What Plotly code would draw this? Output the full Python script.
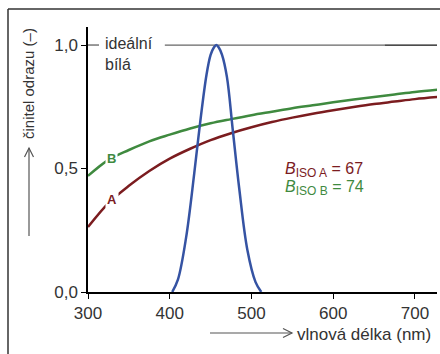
import plotly.graph_objects as go

# Data
wl_curves = [300, 325, 350, 375, 400, 425, 450, 475, 500, 525, 550, 575, 600, 625, 650, 675, 700, 730]
refl_B = [0.47, 0.535, 0.575, 0.61, 0.637, 0.662, 0.683, 0.70, 0.716, 0.73, 0.744, 0.756, 0.768, 0.779, 0.79, 0.80, 0.81, 0.82]
refl_A = [0.263, 0.36, 0.43, 0.49, 0.54, 0.58, 0.615, 0.643, 0.667, 0.688, 0.706, 0.722, 0.736, 0.749, 0.761, 0.771, 0.781, 0.79]
wl_blue = [403, 410, 420, 430, 437, 445, 450, 454, 457, 460, 464, 470, 477, 485, 495, 505, 512]
refl_blue = [0.0, 0.05, 0.22, 0.48, 0.68, 0.88, 0.96, 0.99, 1.0, 0.99, 0.96, 0.87, 0.66, 0.42, 0.17, 0.04, 0.0]
x_ticks = [300, 400, 500, 600, 700]
y_ticks = [0.0, 0.5, 1.0]
y_ticklabels = ["0,0", "0,5", "1,0"]

GREEN = "#3f8a3f"
RED = "#7b1c1f"
BLUE = "#3553a3"
TXT = "#333333"
FONT = "Liberation Sans"

W, H = 440, 354
L, R, T, B = 88, 3, 27, 62

def px(x):
    return (x - L) / (W - L - R)

def py(y):
    return (H - B - y) / (H - T - B)

fig = go.Figure()
fig.add_trace(go.Scatter(x=wl_curves, y=refl_A, mode="lines", line=dict(color=RED, width=2.5), line_shape="spline", showlegend=False))
fig.add_trace(go.Scatter(x=wl_curves, y=refl_B, mode="lines", line=dict(color=GREEN, width=2.5), line_shape="spline", showlegend=False))
fig.add_trace(go.Scatter(x=wl_blue, y=refl_blue, mode="lines", line=dict(color=BLUE, width=2.5), line_shape="spline", showlegend=False))

shapes = []
# ideal white reference line (broken by its label)
shapes.append(dict(type="line", xref="x", yref="y", x0=300, x1=313.5, y0=1.0, y1=1.0, line=dict(color="#555555", width=1.2), layer="below"))
shapes.append(dict(type="line", xref="x", yref="y", x0=394, x1=663, y0=1.0, y1=1.0, line=dict(color="#666666", width=1.2), layer="below"))
shapes.append(dict(type="line", xref="x", yref="y", x0=663, x1=727, y0=1.0, y1=1.0, line=dict(color="#111111", width=1.2), layer="below"))
# frame
shapes.append(dict(type="line", xref="paper", yref="paper", x0=px(8), x1=px(445), y0=py(9), y1=py(9), line=dict(color="#333333", width=1.5)))
shapes.append(dict(type="line", xref="paper", yref="paper", x0=px(8), x1=px(8), y0=py(9), y1=py(360), line=dict(color="#333333", width=1.5)))
# y-axis title arrow
shapes.append(dict(type="line", xref="paper", yref="paper", x0=px(29), x1=px(29), y0=py(236), y1=py(148), line=dict(color="#555555", width=1.2)))
shapes.append(dict(type="path", xref="paper", yref="paper",
                   path=f"M {px(24.5)},{py(157)} L {px(29)},{py(148)} L {px(33.5)},{py(157)}",
                   line=dict(color="#555555", width=1.2)))
# x-axis title arrow
shapes.append(dict(type="line", xref="paper", yref="paper", x0=px(210), x1=px(292), y0=py(333), y1=py(333), line=dict(color="#555555", width=1.2)))
shapes.append(dict(type="path", xref="paper", yref="paper",
                   path=f"M {px(283)},{py(328.5)} L {px(292)},{py(333)} L {px(283)},{py(337.5)}",
                   line=dict(color="#555555", width=1.2)))

annotations = []
annotations.append(dict(xref="paper", yref="paper", x=px(104), y=py(34), xanchor="left", yanchor="top",
                        text="ideální<br>bílá", showarrow=False, align="left",
                        font=dict(family=FONT, size=16, color=TXT), borderpad=0))
annotations.append(dict(xref="paper", yref="paper", x=px(29), y=py(84), xanchor="center", yanchor="middle",
                        text="činitel odrazu (–)", textangle=-90, showarrow=False,
                        font=dict(family=FONT, size=15, color=TXT)))
annotations.append(dict(xref="paper", yref="paper", x=px(295), y=py(334), xanchor="left", yanchor="middle",
                        text="vlnová délka (nm)", showarrow=False,
                        font=dict(family=FONT, size=17, color=TXT)))
annotations.append(dict(xref="paper", yref="paper", x=px(111), y=py(158), xanchor="center", yanchor="middle",
                        text="<b>B</b>", showarrow=False, bgcolor="white", borderpad=1,
                        font=dict(family=FONT, size=13, color=GREEN)))
annotations.append(dict(xref="paper", yref="paper", x=px(112), y=py(199), xanchor="center", yanchor="middle",
                        text="<b>A</b>", showarrow=False, bgcolor="white", borderpad=1,
                        font=dict(family=FONT, size=13, color=RED)))
annotations.append(dict(xref="paper", yref="paper", x=px(283), y=py(170), xanchor="left", yanchor="middle",
                        text="<i>B</i><sub><span style='font-size:12px'>ISO A</span></sub> = 67", showarrow=False,
                        font=dict(family=FONT, size=16, color=RED)))
annotations.append(dict(xref="paper", yref="paper", x=px(283), y=py(188), xanchor="left", yanchor="middle",
                        text="<i>B</i><sub><span style='font-size:12px'>ISO B</span></sub> = 74", showarrow=False,
                        font=dict(family=FONT, size=16, color=GREEN)))

fig.update_layout(
    width=W, height=H,
    margin=dict(l=L, r=R, t=T, b=B, autoexpand=False),
    paper_bgcolor="white", plot_bgcolor="white",
    shapes=shapes, annotations=annotations,
    xaxis=dict(range=[300, 727], tickvals=x_ticks, ticks="outside", ticklen=5, tickcolor="black",
               showline=True, linecolor="black", linewidth=1.5, showgrid=False, zeroline=False,
               tickfont=dict(family=FONT, size=17, color=TXT)),
    yaxis=dict(range=[0, 1.073], tickvals=y_ticks, ticktext=y_ticklabels, ticks="outside", ticklen=5,
               tickcolor="black", showline=True, linecolor="black", linewidth=1.5, showgrid=False,
               zeroline=False, tickfont=dict(family=FONT, size=17, color=TXT)),
)

fig.write_html("out.html", config={"displayModeBar": False},
               post_script="document.body.style.margin='0';document.body.style.overflow='hidden';")
